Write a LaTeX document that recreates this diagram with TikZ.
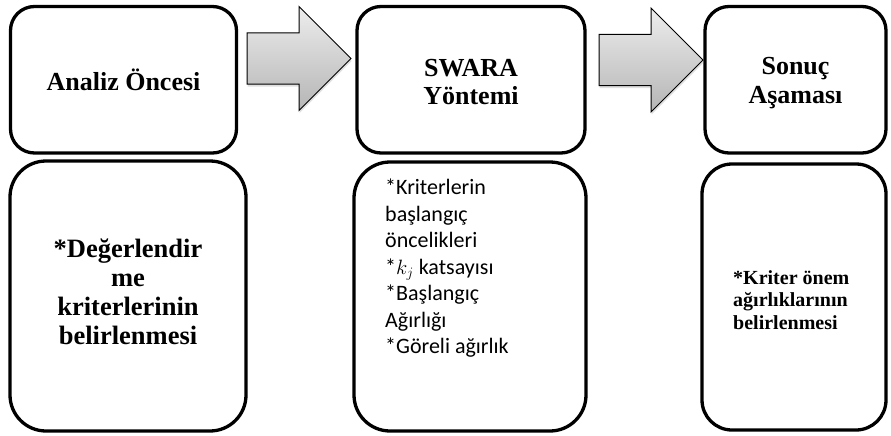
\documentclass[tikz,border=0pt]{standalone}
\usepackage{fontspec}
\setmainfont{Liberation Serif}
\newfontfamily\calibrifont{Carlito}
\usetikzlibrary{shapes.arrows,shadows}
\definecolor{arrtop}{HTML}{EDEDED}
\definecolor{arrbot}{HTML}{B5B5B5}
\begin{document}
\begin{tikzpicture}[x=1pt,y=-1pt,
  box/.style={draw=black, line width=3.3pt, rounded corners=#1, fill=white, inner sep=0pt},
  blockarrow/.style={single arrow, draw=black, line width=1pt, single arrow head extend=26.5pt,
    single arrow tip angle=90, inner xsep=0pt, inner ysep=25pt, minimum height=104pt,
    top color=arrtop, bottom color=arrbot,
    drop shadow={opacity=0.25, shadow xshift=0.5pt, shadow yshift=-2.5pt}},
  toptext/.style={font=\bfseries\fontsize{26}{28.5}\selectfont, align=center, inner sep=0pt},
  bigtext/.style={font=\bfseries\fontsize{26.5}{29}\selectfont, align=center, inner sep=0pt},
  sanstext/.style={font=\calibrifont\fontsize{22}{26.5}\selectfont, align=left, inner sep=0pt, anchor=north west},
  smalltext/.style={font=\bfseries\fontsize{20}{22.5}\selectfont, align=left, inner sep=0pt, anchor=north west}
]
\useasboundingbox (0,0) rectangle (891,436);
% top row
\node[box=24pt, minimum width=226pt, minimum height=146.5pt] (top1) at (123.5,79.75) {};
\node[box=24pt, minimum width=228pt, minimum height=146.5pt] (top2) at (471,79.75) {};
\node[box=24pt, minimum width=181pt, minimum height=146.5pt] (top3) at (795.5,79.75) {};
% bottom row
\node[box=36pt, minimum width=236pt, minimum height=270pt] (bot1) at (128,296) {};
\node[box=36pt, minimum width=232pt, minimum height=269pt] (bot2) at (470,296.5) {};
\node[box=30pt, minimum width=184pt, minimum height=266pt] (bot3) at (794,297) {};
% block arrows
\node[blockarrow, anchor=tail] (arr1) at (246.5,58.5) {};
\node[blockarrow, anchor=tail] (arr2) at (598.5,60) {};
% texts
\node[toptext, anchor=base] (l1) at (123.5,90) {Analiz Öncesi};
\node[toptext] (l2) at (471,82) {SWARA\\Yöntemi};
\node[toptext] (l3) at (795.5,83) {Sonuç\\Aşaması};
\node[bigtext] (d1) at (128,291.5) {*Değerlendir\\me\\kriterlerinin\\belirlenmesi};
\node[sanstext] (d2) at (385,179) {*Kriterlerin\\başlangıç\\öncelikleri\\*$k_j$ katsayısı\\*Başlangıç\\Ağırlığı\\*Göreli ağırlık};
\node[smalltext] (d3) at (733,270) {*Kriter önem\\ağırlıklarının\\belirlenmesi};
\end{tikzpicture}
\end{document}
